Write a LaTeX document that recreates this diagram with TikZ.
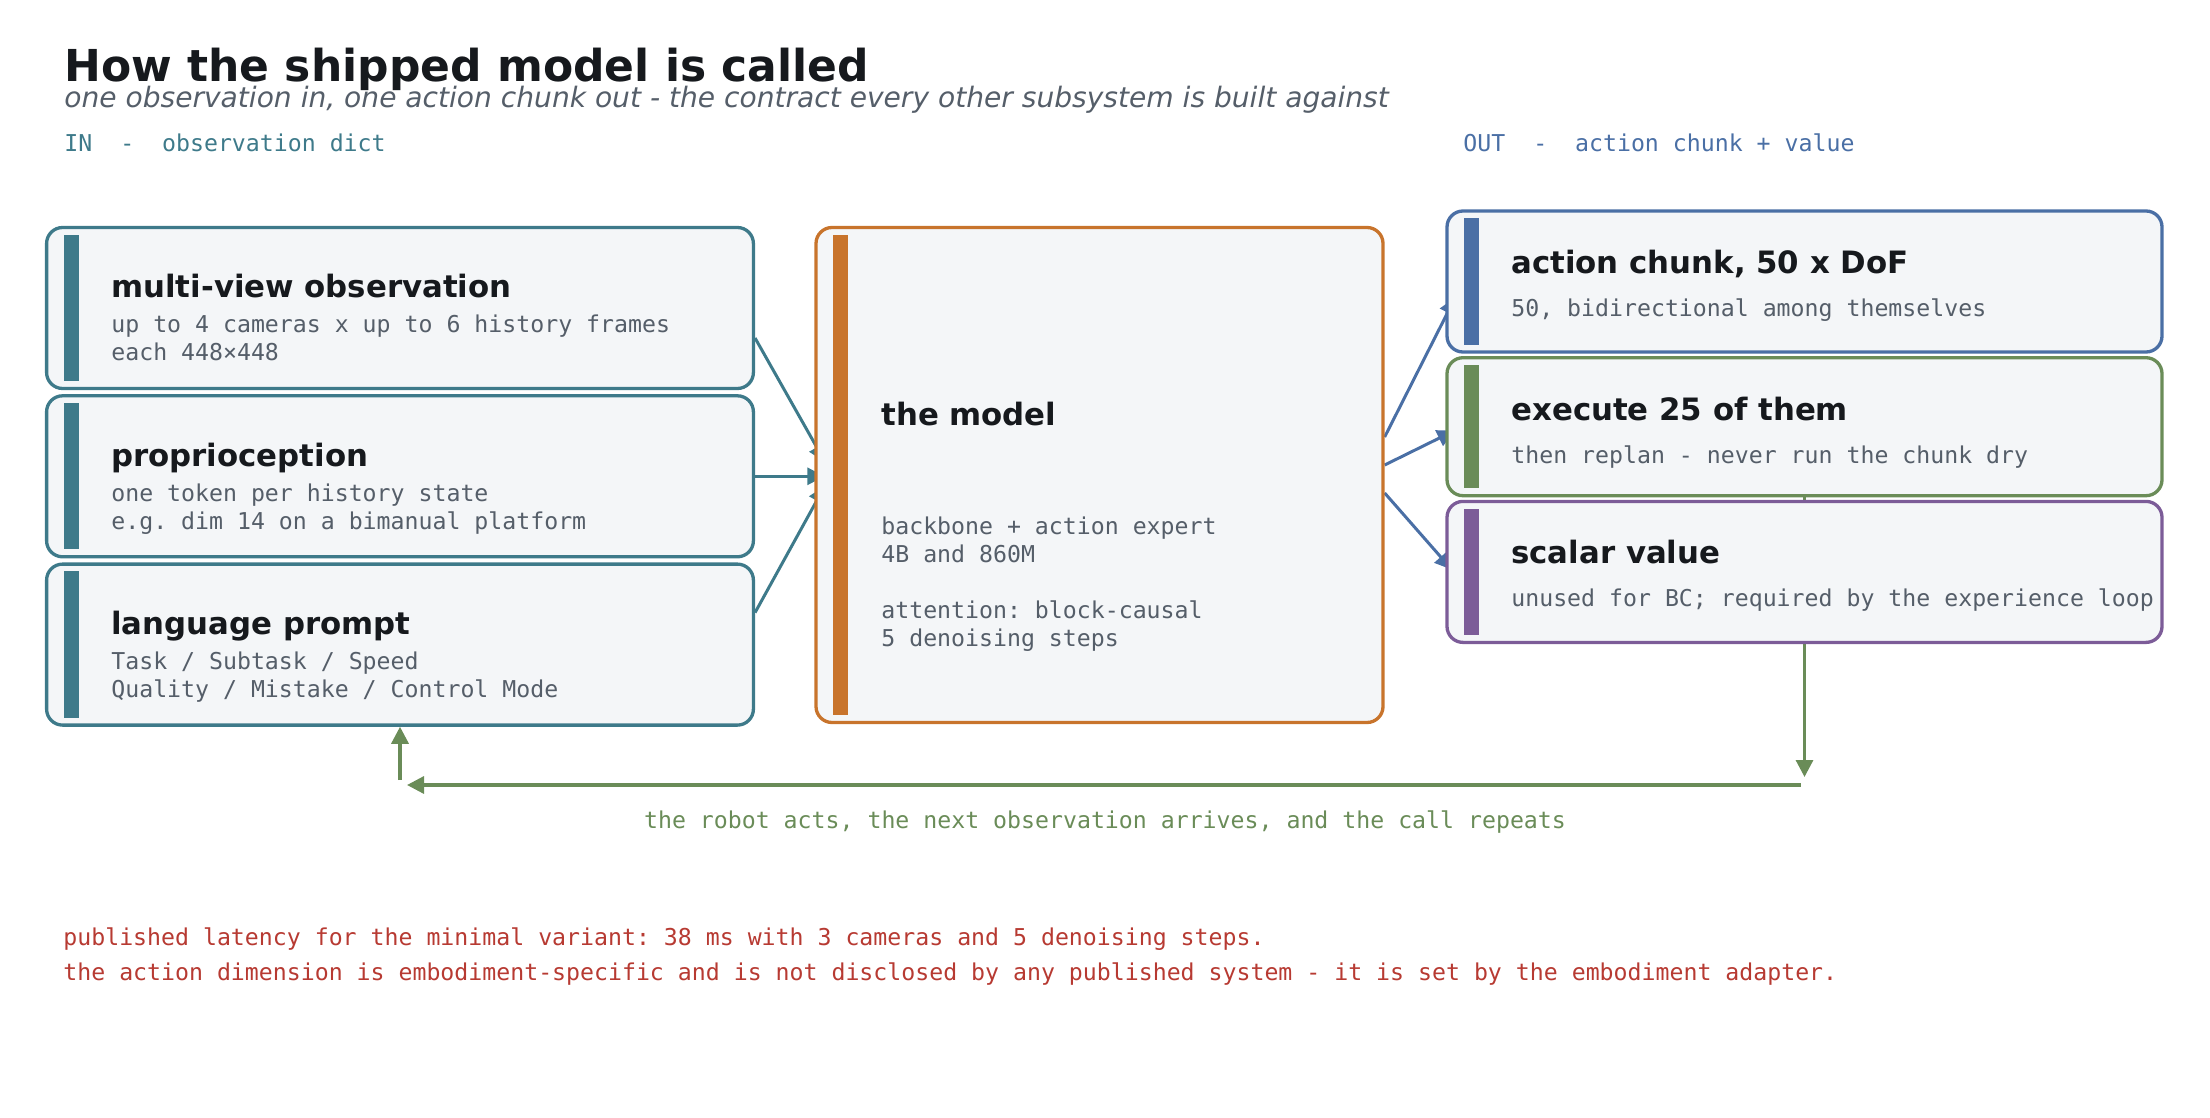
\documentclass[tikz,border=0pt]{standalone}
\usepackage{fontspec}
\setmainfont{DejaVu Sans}[ItalicFont={DejaVu Sans Oblique},BoldItalicFont={DejaVu Sans Bold Oblique}]
\setmonofont{DejaVu Sans Mono}
\usetikzlibrary{positioning,calc,arrows.meta,backgrounds}
\definecolor{ink}{HTML}{16191D}
\definecolor{slate}{HTML}{555E69}
\definecolor{tealc}{HTML}{3E7A8A}
\definecolor{orangec}{HTML}{C8742C}
\definecolor{bluec}{HTML}{4A6FA5}
\definecolor{greenc}{HTML}{6A8C58}
\definecolor{purplec}{HTML}{7C5C98}
\definecolor{paper}{HTML}{F4F6F8}
\definecolor{redc}{HTML}{B73A32}

\begin{document}
\begin{tikzpicture}[
    x = 1pt, y = -1pt,
    node distance = 2pt,
    box/.style    = {draw=#1, fill=paper, line width=1.65pt, rounded corners=8pt,
                     minimum width=353.4pt, minimum height=80.5pt, inner sep=0pt},
    outbox/.style = {box=#1, minimum width=357.5pt, minimum height=70.5pt},
    head/.style   = {anchor=base west, inner sep=0pt, text=ink,
                     font=\bfseries\fontsize{15.4}{18}\selectfont},
    detail/.style = {anchor=base west, inner sep=0pt, text=slate,
                     font=\ttfamily\fontsize{11.6}{14}\selectfont},
    tip/.style    = {-{Triangle[length=8.5pt,width=8.5pt]}},
    link/.style   = {tip, line width=1.5pt, shorten >=-5pt},
    deep/.style   = {shorten >=-11pt},
    feedback/.style = {tip, greenc, line width=1.6pt}
]
\useasboundingbox (0,0) rectangle (1105,559);

% header
\node[anchor=base west, inner sep=0pt, text=ink, font=\bfseries\fontsize{22}{26}\selectfont]
  (title) at (32,40.8) {How the shipped model is called};
\node[anchor=base west, inner sep=0pt, text=slate, font=\itshape\fontsize{14.05}{17}\selectfont]
  (subtitle) at (32,53.7) {one observation in, one action chunk out - the contract every other subsystem is built against};
\node[detail, text=tealc] (in-label)  at (32,75.8)    {IN\ \ -\ \ observation dict};
\node[detail, text=bluec] (out-label) at (731.5,75.8) {OUT\ \ -\ \ action chunk + value};

% inputs
\node[box=tealc] (obs) at (200,154) {};
\node[box=tealc, below=of obs]  (prop) {};
\node[box=tealc, below=of prop] (lang) {};

% model
\node[box=orangec, minimum width=283.5pt, minimum height=247.5pt] (model) at (549.75,237.5) {};

% outputs
\node[outbox=bluec] (chunk) at (902.25,140.75) {};
\node[outbox=greenc, minimum height=69pt, below=1.2pt of chunk] (exec) {};
\node[outbox=purplec, below=1.2pt of exec] (scalar) {};

\foreach \b/\c in {obs/tealc, prop/tealc, lang/tealc, model/orangec,
                   chunk/bluec, exec/greenc, scalar/purplec}
  \fill[\c] ([shift={(9.5,4.5)}]\b.north west) rectangle ([shift={(17,-4.5)}]\b.south west);

\foreach \b/\t in {obs/multi-view observation, prop/proprioception, lang/language prompt}
  \node[head] (\b-head) at ([shift={(33,36)}]\b.north west) {\t};
\foreach[count=\i] \t in {up to 4 cameras x up to 6 history frames, each 448×448}
  \node[detail] (obs-\i) at ([shift={(0,3.5+14*\i)}]obs-head.base west) {\t};
\foreach[count=\i] \t in {one token per history state, e.g. dim 14 on a bimanual platform}
  \node[detail] (prop-\i) at ([shift={(0,3.5+14*\i)}]prop-head.base west) {\t};
\foreach[count=\i] \t in {Task / Subtask / Speed, Quality / Mistake / Control Mode}
  \node[detail] (lang-\i) at ([shift={(0,3.5+14*\i)}]lang-head.base west) {\t};

\node[head] (model-head) at ([shift={(33.3,100)}]model.north west) {the model};
\foreach \t/\k in {backbone + action expert/0, 4B and 860M/1,
                   attention: block-causal/3, 5 denoising steps/4}
  \node[detail] (model-\k) at ([shift={(0,54.5+14*\k)}]model-head.base west) {\t};

\foreach \b/\t/\s in {chunk/{action chunk, 50 x DoF}/{50, bidirectional among themselves},
                      exec/execute 25 of them/then replan - never run the chunk dry,
                      scalar/scalar value/unused for BC; required by the experience loop}
{
  \node[head] (\b-head) at ([shift={(32.8,32)}]\b.north west) {\t};
  \node[detail] (\b-1) at ([shift={(0,21.5)}]\b-head.base west) {\s};
}

% connectors behind the boxes
\begin{pgfonlayer}{background}
  \draw[link, deep, tealc] ($(obs.east)+(0,15)$)   -- ($(model.west)+(0,-16)$);
  \draw[link, tealc]       (prop.east)              -- (prop.east -| model.west);
  \draw[link, deep, tealc] ($(lang.east)+(0,-16)$) -- ($(model.west)+(0,15)$);
  \draw[link, deep, bluec] ($(model.east)+(0,-19)$) -- ($(chunk.west)+(0,17.75)$);
  \draw[link, bluec]       ($(model.east)+(0,-5)$)  -- ($(exec.west)+(0,4.2)$);
  \draw[link, bluec]       ($(model.east)+(0,9)$)   -- ($(scalar.west)+(0,-4.85)$);
  \coordinate (turn-r) at (exec.south |- 0,392.5);
  \coordinate (turn-l) at (lang.south |- 0,392.5);
  \draw[feedback] (exec.south) -- ($(turn-r)+(0,-4)$);
\end{pgfonlayer}

\draw[feedback] ($(turn-r)+(-2,0)$)  -- ($(turn-l)+(3.5,0)$);
\draw[feedback] ($(turn-l)+(0,-2.5)$) -- (lang.south);
\node[detail, anchor=base, text=greenc] (loop-note) at (552.5,414)
  {the robot acts, the next observation arrives, and the call repeats};

% notes
\node[detail, text=redc] (note-1) at (31.5,472.5)
  {published latency for the minimal variant: 38 ms with 3 cameras and 5 denoising steps.};
\node[detail, text=redc] (note-2) at (31.5,490)
  {the action dimension is embodiment-specific and is not disclosed by any published system - it is set by the embodiment adapter.};
\end{tikzpicture}
\end{document}
